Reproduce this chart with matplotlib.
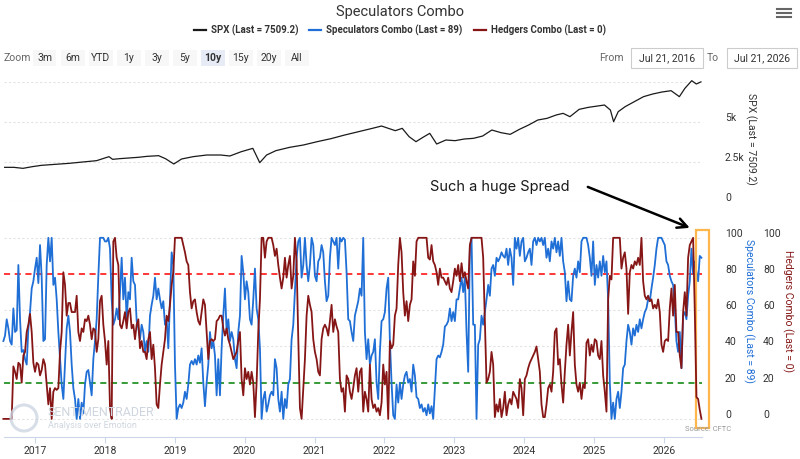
import numpy as np
import matplotlib
matplotlib.use("Agg")
import matplotlib.pyplot as plt
from matplotlib import font_manager, transforms
from matplotlib.patches import Rectangle, Circle
from matplotlib.lines import Line2D

installed = {f.name for f in font_manager.fontManager.ttflist}
UI = 'Liberation Sans Narrow' if 'Liberation Sans Narrow' in installed else 'Roboto'
plt.rcParams['font.family'] = [UI, 'DejaVu Sans']

# ---- data ----
spx_years = [2016.565, 2016.697, 2016.828, 2016.960, 2017.091, 2017.289, 2017.486, 2017.683,
             2017.881, 2018.058, 2018.111, 2018.209, 2018.341, 2018.473, 2018.604, 2018.769,
             2018.867, 2018.986, 2019.097, 2019.262, 2019.459, 2019.657, 2019.788, 2019.952,
             2020.117, 2020.216, 2020.314, 2020.446, 2020.643, 2020.840, 2021.038, 2021.235,
             2021.432, 2021.630, 2021.827, 2021.959, 2022.057, 2022.156, 2022.255, 2022.353,
             2022.452, 2022.551, 2022.649, 2022.748, 2022.880, 2023.011, 2023.143, 2023.274,
             2023.406, 2023.537, 2023.669, 2023.800, 2023.932, 2024.064, 2024.195, 2024.327,
             2024.458, 2024.557, 2024.655, 2024.787, 2024.919, 2025.050, 2025.149, 2025.234,
             2025.280, 2025.346, 2025.445, 2025.576, 2025.708, 2025.839, 2025.971, 2026.103,
             2026.221, 2026.300, 2026.398, 2026.464, 2026.530]
spx_values = [2166, 2166, 2104, 2208, 2291, 2354, 2416, 2500,
              2583, 2833, 2666, 2708, 2750, 2791, 2854, 2895,
              2708, 2375, 2687, 2833, 2937, 2937, 2875, 3145,
              3354, 2458, 2937, 3208, 3416, 3562, 3770, 3958,
              4187, 4395, 4603, 4749, 4603, 4458, 4603, 4083,
              3770, 4041, 4291, 3624, 3875, 3833, 3937, 3979,
              4124, 4499, 4333, 4229, 4541, 4812, 5124, 5228,
              5437, 5541, 5333, 5791, 5916, 5999, 6062, 5749,
              5020, 5645, 5958, 6270, 6583, 6749, 6874, 6957,
              6583, 7103, 7582, 7374, 7509]

# Speculators / Hedgers combo, evenly spaced from Jul 2016 to Jul 2026
spec_values = [
    43, 46, 55, 50, 43, 41, 61, 48, 49, 85, 55, 37, 38, 33, 30, 50, 59, 72, 76, 83,
    89, 75, 96, 78, 43, 44, 85, 100, 87, 100, 74, 78, 66, 48, 33, 19, 11, 30, 50, 57,
    48, 30, 17, 11, 0, 11, 0, 9, 3, 19, 26, 27, 20, 13, 33, 43, 55, 79, 100, 100,
    100, 98, 98, 100, 94, 66, 52, 55, 61, 55, 70, 89, 66, 78, 55, 70, 66, 89, 76, 74,
    54, 50, 44, 52, 48, 37, 43, 37, 57, 63, 68, 78, 66, 72, 66, 61, 65, 52, 55, 39,
    66, 92, 85, 30, 0, 6, 8,
    6, 9, 15, 11, 19, 30, 32, 30, 33, 30, 35, 31, 39, 20, 7, 20, 30, 48, 39, 43,
    35, 13, 33, 13, 39, 57, 72, 48, 55, 43, 48, 44, 33, 28, 48, 57, 90, 81, 66, 76,
    70, 55, 52, 66, 83, 61, 55, 39, 0, 11, 15, 4, 8, 13, 15, 13, 33, 28, 11, 4,
    15, 0, 11, 6, 19, 22, 44, 52, 70, 89, 98, 100, 78, 85, 100, 85, 76, 85, 100, 96,
    79, 76, 87, 89, 96, 92, 76, 65, 68, 89, 100, 98, 96, 100, 83, 100, 98, 100, 99, 81,
    55, 54, 48, 43, 57,
    61, 65, 72, 68, 100, 48, 33, 44, 30, 35, 37, 44, 20, 11, 37, 54, 55, 59, 72, 78,
    43, 20, 2, 0, 19, 9, 20, 11, 19, 24, 26, 20, 22, 15, 30, 24, 12, 11, 6, 8,
    4, 6, 2, 8, 3, 7, 0, 17, 33, 35, 34, 37, 41, 51, 52, 54, 61, 54, 59, 54,
    66, 66, 72, 78, 70, 78, 48, 26, 94, 100, 52, 52, 0, 41, 44, 57, 52, 59, 66, 74,
    68, 83, 85, 79, 89, 87, 89, 92, 90, 89, 94, 85, 94, 89, 74, 100, 94, 100, 90, 98,
    100, 87, 89, 92, 94,
    85, 98, 100, 96, 100, 98, 100, 96, 100, 89, 94, 87, 98, 94, 100, 92, 98, 90, 100, 87,
    81, 65, 76, 66, 65, 79, 83, 78, 87, 81, 98, 100, 100, 100, 96, 89, 79, 98, 74, 85,
    78, 87, 79, 90, 81, 87, 66, 20, 0, 9, 0, 11, 15, 6, 15, 28, 30, 43, 52, 48,
    41, 50, 46, 52, 48, 55, 50, 55, 59, 61, 66, 65, 72, 78, 85, 94, 100, 100, 100, 98,
    96, 87, 85, 79, 76, 74, 61, 43, 37, 48, 28, 57, 59, 55, 68, 76, 94, 80, 87, 81,
    76, 90, 89]

hedge_values = [
    0, 0, 0, 0, 0, 0, 29, 26, 22, 31, 30, 20, 35, 37, 48, 52, 58, 48, 31, 26,
    31, 30, 24, 27, 33, 30, 19, 8, 17, 0, 15, 17, 16, 17, 37, 48, 81, 74, 57, 64,
    64, 59, 59, 59, 68, 48, 43, 50, 48, 55, 54, 57, 52, 44, 50, 49, 37, 44, 65, 68,
    52, 43, 30, 43, 6, 0, 98, 100, 89, 85, 52, 50, 54, 59, 50, 59, 61, 50, 52, 44,
    52, 55, 39, 43, 37, 37, 33, 44, 48, 33, 41, 28, 8, 6, 19, 30, 37, 44, 57, 54,
    63, 74, 81, 100, 100, 100, 100,
    100, 96, 92, 87, 85, 70, 61, 65, 66, 59, 54, 52, 59, 66, 63, 48, 33, 43, 44, 43,
    44, 54, 55, 57, 57, 50, 46, 50, 44, 41, 37, 33, 35, 37, 43, 48, 22, 13, 28, 22,
    26, 19, 26, 20, 1, 20, 48, 66, 100, 100, 89, 98, 100, 100, 100, 96, 90, 94, 85, 78,
    72, 78, 89, 78, 85, 90, 72, 79, 100, 87, 45, 6, 0, 17, 33, 57, 68, 63, 59, 44,
    37, 33, 26, 24, 44, 50, 52, 50, 46, 54, 63, 48, 55, 51, 48, 22, 15, 17, 4, 24,
    22, 15, 11, 17, 24,
    28, 15, 26, 28, 4, 15, 11, 4, 30, 11, 6, 8, 4, 6, 2, 9, 30, 19, 26, 0,
    43, 39, 41, 57, 61, 85, 100, 92, 70, 57, 65, 54, 63, 66, 87, 79, 98, 100, 100, 100,
    100, 100, 100, 89, 88, 96, 87, 85, 81, 74, 83, 78, 78, 76, 74, 78, 72, 70, 76, 83,
    79, 85, 76, 86, 78, 81, 76, 72, 96, 100, 100, 100, 100, 100, 100, 100, 89, 54, 20, 22,
    26, 37, 30, 1, 8, 4, 11, 1, 6, 15, 2, 8, 11, 8, 15, 13, 11, 6, 22, 17,
    2, 22, 24, 28, 31,
    33, 35, 37, 40, 33, 26, 8, 1, 1, 8, 17, 19, 15, 26, 48, 50, 30, 33, 19, 9,
    26, 41, 52, 35, 48, 59, 30, 19, 15, 20, 11, 19, 17, 42, 44, 35, 41, 37, 44, 43,
    35, 33, 43, 24, 15, 4, 66, 79, 77, 100, 100, 100, 100, 100, 83, 89, 92, 83, 58, 81,
    85, 83, 87, 85, 89, 85, 100, 76, 68, 66, 68, 65, 66, 61, 63, 61, 66, 59, 41, 37,
    43, 44, 43, 61, 72, 57, 74, 48, 48, 35, 28, 59, 70, 57, 89, 96, 98, 100, 60, 12,
    11, 5, 0]

year_ticks = list(range(2017, 2027))
spx_ticks = [0, 2500, 5000, 7500]
spx_tick_labels = ['0', '2.5k', '5k', '']
combo_ticks = [0, 20, 40, 60, 80, 100]
upper_band, lower_band = 80, 20

start_year, end_year = 2016.547, 2026.537
spec_years = np.linspace(start_year, end_year, len(spec_values))
hedge_years = np.linspace(start_year, end_year, len(hedge_values))

BLUE = '#1f6fd6'
MAROON = '#861616'
GRID = '#e3e3e3'
W, H = 800, 459


def fx(px):
    return px / W


def fy(py):
    return 1 - py / H


fig = plt.figure(figsize=(W / 100, H / 100), dpi=100)
fig.patch.set_facecolor('white')

XMIN, XMAX = 2016.556, 2026.545

# ---- upper pane: SPX ----
ax_spx = fig.add_axes([fx(4), fy(202), 698 / W, 120 / H])
ax_spx.plot(spx_years, spx_values, color='#1a1a1a', lw=0.9, clip_on=False, zorder=3)
ax_spx.set_xlim(XMIN, XMAX)
ax_spx.set_ylim(0, 7500)
for v in spx_ticks:
    ax_spx.axhline(v, color=GRID, lw=0.8, ls=(0, (2, 2)), zorder=1)
ax_spx.set_xticks([])
ax_spx.set_yticks([])
for s in ax_spx.spines.values():
    s.set_visible(False)
lbl_tr = transforms.blended_transform_factory(ax_spx.transAxes, ax_spx.transData) + \
    transforms.ScaledTranslation(0.23, 0.04, fig.dpi_scale_trans)
for v, lab in zip(spx_ticks, spx_tick_labels):
    ax_spx.text(1, v, lab, transform=lbl_tr, ha='left', va='center', fontsize=7.5, color='#333333')
fig.text(fx(751), fy(139), 'SPX (Last = 7509.2)', rotation=270, ha='center', va='center',
         fontsize=7.5, color='#333333')

# ---- lower pane: combos ----
ax = fig.add_axes([fx(4), fy(437), 698 / W, 201 / H])
ax_h = ax.twinx()
for a in (ax, ax_h):
    a.set_xlim(XMIN, XMAX)
    a.set_ylim(-10, 101)
    a.set_yticks([])
    for s in a.spines.values():
        s.set_visible(False)
for v in combo_ticks:
    if v not in (upper_band, lower_band):
        ax.axhline(v, color=GRID, lw=0.8, ls=(0, (2, 2)), zorder=1)
ax.axhline(upper_band, color='#ff0000', lw=1.1, ls=(0, (4, 3)), zorder=1)
ax.axhline(lower_band, color='#008000', lw=1.1, ls=(0, (4, 3)), zorder=1)
ax.plot(spec_years, spec_values, color=BLUE, lw=1.3, zorder=2, clip_on=False)
ax_h.plot(hedge_years, hedge_values, color=MAROON, lw=1.3, zorder=2, clip_on=False)

ax.spines['bottom'].set_visible(True)
ax.spines['bottom'].set_color('#ccd6eb')
ax.set_xticks(year_ticks)
ax.set_xticklabels([str(y) for y in year_ticks])
ax.tick_params(axis='x', direction='out', length=4.5, color='#ccd6eb', labelsize=7.5,
               labelcolor='#333333', pad=2)

spec_tr = transforms.blended_transform_factory(ax.transAxes, ax.transData) + \
    transforms.ScaledTranslation(0.23, 0.04, fig.dpi_scale_trans)
hedge_tr = transforms.blended_transform_factory(ax.transAxes, ax.transData) + \
    transforms.ScaledTranslation(0.61, 0.04, fig.dpi_scale_trans)
for v in combo_ticks:
    ax.text(1, v, str(v), transform=spec_tr, ha='left', va='center', fontsize=7.5, color='#333333')
    ax.text(1, v, str(v), transform=hedge_tr, ha='left', va='center', fontsize=7.5, color='#333333')
fig.text(fx(749), fy(311), 'Speculators Combo (Last = 89)', rotation=270, ha='center',
         va='center', fontsize=7.5, color=BLUE)
fig.text(fx(788), fy(311), 'Hedgers Combo (Last = 0)', rotation=270, ha='center',
         va='center', fontsize=7.5, color=MAROON)

# annotation
ax.text(2023.652, 128.1, 'Such a huge Spread', ha='center', va='center', fontsize=10.5,
        family=['Inter', 'Roboto', 'DejaVu Sans'], color='#1a1a1a')
ax.annotate('', xy=(2026.37, 105.5), xytext=(2024.911, 128.1), annotation_clip=False,
            arrowprops=dict(arrowstyle='->,head_length=0.7,head_width=0.35', lw=1.8,
                            color='black', shrinkA=0, shrinkB=0))
ax.add_patch(Rectangle((2026.456, -5), 0.186, 109.4, fill=False, ec='#ffb64c', lw=1.6,
                       clip_on=False, zorder=5))

# watermark / source
fig.add_artist(Circle((24, H - 418), 13, transform=None, fill=False, ec='#cdd6e2', lw=2.2, alpha=0.8))
fig.text(fx(48), fy(413), 'SENTIMENTRADER', fontsize=9, color='#cfd6df', va='center', ha='left')
fig.text(fx(48), fy(425), 'Analysis over Emotion', fontsize=6.5, color='#cfd6df', va='center', ha='left')
fig.text(fx(708), fy(429), 'Source: CFTC', fontsize=5.5, color='#999999', ha='center', va='center')

# ---- header: title, legend, range selector ----
fig.text(0.5, fy(12), 'Speculators Combo', ha='center', va='center', fontsize=10.5, color='#333333')
legend_items = [('SPX (Last = 7509.2)', '#1a1a1a', 194),
                ('Speculators Combo (Last = 89)', BLUE, 309),
                ('Hedgers Combo (Last = 0)', MAROON, 474)]
for lab, col, x0 in legend_items:
    fig.add_artist(Line2D([fx(x0), fx(x0 + 12)], [fy(30), fy(30)], transform=fig.transFigure,
                          color=col, lw=1.6))
    fig.text(fx(x0 + 17), fy(30), lab, ha='left', va='center', fontsize=7, fontweight='bold',
             color='#333333')

for yy in (9, 13, 17):
    fig.add_artist(Line2D([fx(777), fx(791)], [fy(yy), fy(yy)], transform=fig.transFigure,
                          color='#666666', lw=1.5))

fig.text(fx(4), fy(58), 'Zoom', ha='left', va='center', fontsize=7.5, color='#666666')
zoom_buttons = ['3m', '6m', 'YTD', '1y', '3y', '5y', '10y', '15y', '20y', 'All']
for i, lab in enumerate(zoom_buttons):
    cx = 44.5 + 28 * i
    sel = lab == '10y'
    fig.add_artist(Rectangle((fx(cx - 12), fy(66)), 24 / W, 16 / H, transform=fig.transFigure,
                             fc='#e6ebf5' if sel else '#f7f7f7', ec='none'))
    fig.text(fx(cx), fy(58), lab, ha='center', va='center', fontsize=7.5, color='#333333',
             fontweight='bold' if sel else 'normal')

fig.text(fx(624), fy(58), 'From', ha='right', va='center', fontsize=7.5, color='#666666')
fig.text(fx(719), fy(58), 'To', ha='right', va='center', fontsize=7.5, color='#666666')
for x0, x1, lab in [(631, 703, 'Jul 21, 2016'), (727, 797, 'Jul 21, 2026')]:
    fig.add_artist(Rectangle((fx(x0), fy(68)), (x1 - x0) / W, 20 / H, transform=fig.transFigure,
                             fc='white', ec='#cccccc', lw=0.8))
    fig.text(fx((x0 + x1) / 2), fy(58), lab, ha='center', va='center', fontsize=7.5, color='#333333')

fig.savefig('out.png', dpi=100)
